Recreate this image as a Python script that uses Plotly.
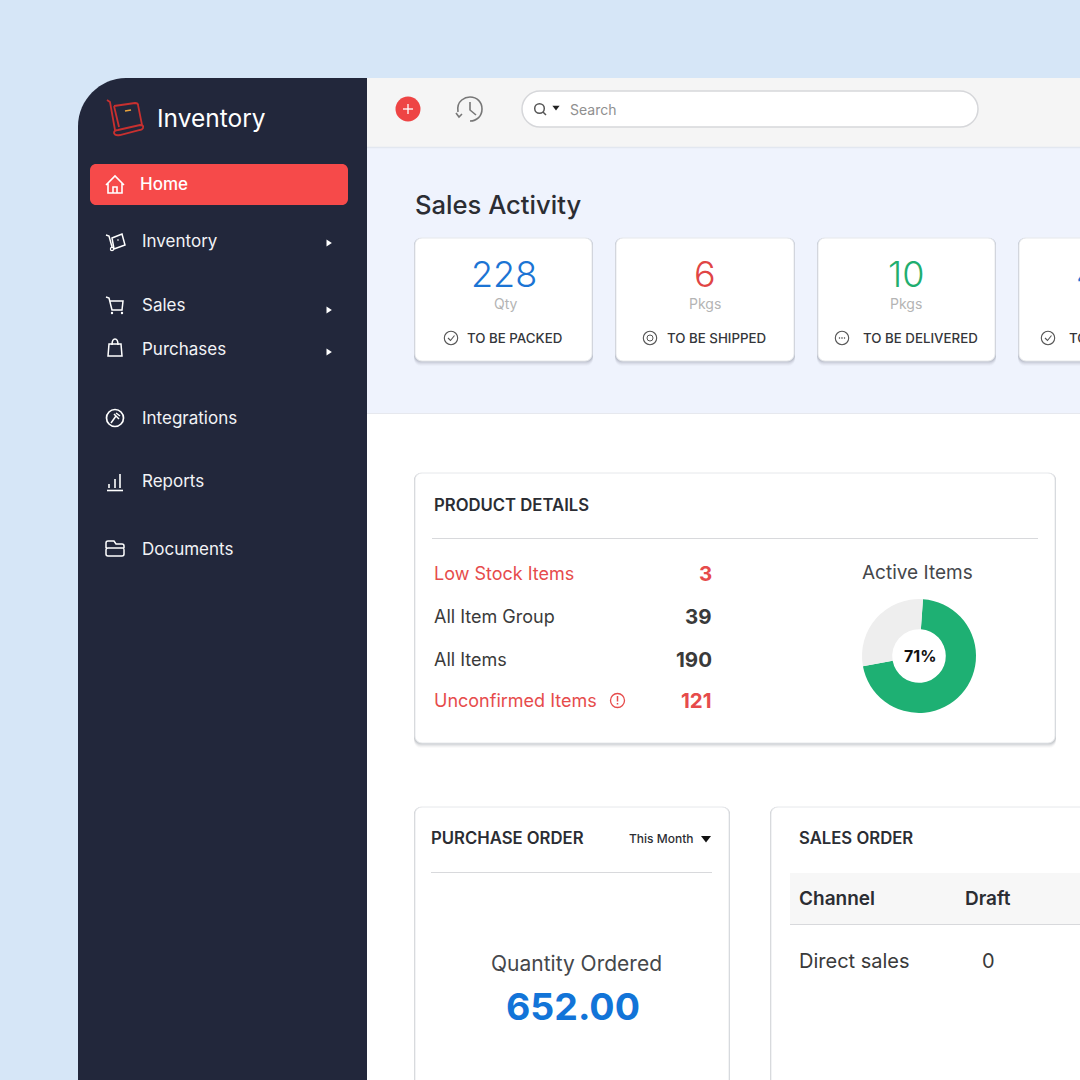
import plotly.graph_objects as go

FONT = "Inter"

# chart values
active_labels = ["Active", "Inactive"]
active_values = [71, 29]

stat_values = ["228", "6", "10", "4"]
stat_units = ["Qty", "Pkgs", "Pkgs", ""]
stat_labels = ["TO BE PACKED", "TO BE SHIPPED", "TO BE DELIVERED", "TO"]
stat_colors = ["#1b74d4", "#e04545", "#1fae6f", "#1b74d4"]

detail_names = ["Low Stock Items", "All Item Group", "All Items", "Unconfirmed Items"]
detail_values = ["3", "39", "190", "121"]
detail_colors = ["#e64b4b", "#3a3a3a", "#3a3a3a", "#e64b4b"]

menu_items = ["Inventory", "Sales", "Purchases", "Integrations", "Reports", "Documents"]

shapes = []
notes = []


def rrect(x0, y0, x1, y1, r, fill, line=None, w=1):
    k = r * 0.45
    d = (f"M {x0+r} {y0} L {x1-r} {y0} C {x1-k} {y0} {x1} {y0+k} {x1} {y0+r} "
         f"L {x1} {y1-r} C {x1} {y1-k} {x1-k} {y1} {x1-r} {y1} "
         f"L {x0+r} {y1} C {x0+k} {y1} {x0} {y1-k} {x0} {y1-r} "
         f"L {x0} {y0+r} C {x0} {y0+k} {x0+k} {y0} {x0+r} {y0} Z")
    shapes.append(dict(type="path", path=d, fillcolor=fill, layer="below",
                       line=dict(color=line or fill, width=w if line else 0)))


def card(x0, y0, x1, y1, r=7):
    # soft shadow under the card
    for i, a in zip([5, 4, 3, 2, 1], [0.03, 0.05, 0.07, 0.09, 0.12]):
        rrect(x0 - 1, y0, x1 + 1, y1 + i, r, f"rgba(90,100,110,{a})")
    rrect(x0, y0, x1, y1, r, "#ffffff", "#e6e8eb", 1)


def stroke(d, color="#ffffff", w=1.6, fill="rgba(0,0,0,0)"):
    shapes.append(dict(type="path", path=d, fillcolor=fill, layer="below",
                       line=dict(color=color, width=w)))


def circle(cx, cy, r, color="#ffffff", w=1.6, fill="rgba(0,0,0,0)"):
    shapes.append(dict(type="circle", x0=cx - r, x1=cx + r, y0=cy - r, y1=cy + r, layer="below",
                       fillcolor=fill, line=dict(color=color, width=w)))


def line(x0, y0, x1, y1, color, w=1):
    shapes.append(dict(type="line", x0=x0, x1=x1, y0=y0, y1=y1, layer="below",
                       line=dict(color=color, width=w)))


def tri(x, y, size, color, right=False):
    if right:
        d = f"M {x-size*0.7} {y-size} L {x+size*0.8} {y} L {x-size*0.7} {y+size} Z"
    else:
        d = f"M {x-size} {y-size*0.6} L {x+size} {y-size*0.6} L {x} {y+size*0.7} Z"
    shapes.append(dict(type="path", path=d, fillcolor=color, layer="below", line=dict(width=0)))


def text(x, y, s, size, color, anchor="left", weight=400):
    # annotations carry a small box padding, take it back so x is the ink edge
    shift = {"left": -2, "right": 2, "center": 0}[anchor]
    notes.append(dict(x=x, y=y, text=s, showarrow=False, xanchor=anchor, yanchor="middle", xshift=shift,
                      font=dict(family=FONT, size=size, color=color, weight=weight)))


# backgrounds
rrect(-10, -10, 1090, 1090, 0, "#d6e6f7")
shapes.append(dict(type="rect", x0=367, x1=1080, y0=78, y1=1080, fillcolor="#ffffff",
                   layer="below", line=dict(width=0)))
shapes.append(dict(type="rect", x0=367, x1=1080, y0=78, y1=147, fillcolor="#f5f5f5",
                   layer="below", line=dict(width=0)))
shapes.append(dict(type="rect", x0=367, x1=1080, y0=147, y1=413, fillcolor="#eff3fd",
                   layer="below", line=dict(width=0)))
line(367, 147.5, 1080, 147.5, "#e2e7f0", 1.5)
line(367, 413.5, 1080, 413.5, "#e6e8ee", 1)

# sidebar
stroke("M 78 1080 L 78 126 C 78 100 100 78 126 78 L 367 78 L 367 1080 Z", "#22273b", 0, "#22273b")

# logo
LOGO = "#c8302f"
stroke("M 107 100 L 110 102 L 115 130", LOGO, 1.8)
stroke("M 114 106 L 135 103 Q 138 103 138 105 L 142 125 M 114 106 L 119 127", LOGO, 1.8)
stroke("M 118 130 L 140 125 Q 144 125 143 128 Q 142 130 140 130 L 120 135 Q 115 136 114 133 Q 114 130 118 130 Z",
       LOGO, 1.8)
line(125, 111, 131, 110, "#e8a33d", 1.6)
text(157, 118, "Inventory", 24.5, "#ffffff")

# menu
rrect(90, 164, 348, 205, 6, "#f64a4a")
text(140, 184, "Home", 17, "#ffffff", weight=500)
stroke("M 106 185 L 115 176 L 124 185 M 108 183 L 108 193 L 122 193 L 122 183 M 113 193 L 113 187 L 117 187 L 117 193")

menu_y = [241, 305, 349, 418, 481, 549]
for name, y in zip(menu_items, menu_y):
    text(142, y, name, 17, "#f2f3f6")
for y in [243, 310, 352]:
    tri(329, y, 3.6, "#ffffff", right=True)

stroke("M 106 235 L 109 236 L 112 247 M 112 238 L 122 234 L 125 245 L 114 249 Z", w=1.5)
circle(112, 249, 1.6, w=1.2)
circle(118, 240, 0.4, w=1)
stroke("M 106 297 L 109 298 L 112 310 L 122 310 L 123 301 L 110 301", w=1.5)
circle(112, 313, 0.6, w=1.2)
circle(122, 313, 0.6, w=1.2)
stroke("M 109 344 L 121 344 L 122 356 L 108 356 Z M 112 345 Q 112 339 115 339 Q 118 339 118 345", w=1.5)
circle(115, 418, 8.5, w=1.7)
stroke("M 111 423 L 116 416 M 114 414 L 119 419 M 116 413 L 120 416", w=1.5)
line(109, 484, 109, 488, "#ffffff", 1.6)
line(115, 479, 115, 488, "#ffffff", 1.6)
line(120, 474, 120, 488, "#ffffff", 1.6)
line(107, 490.5, 123, 490.5, "#ffffff", 1.6)
stroke("M 106 548 L 106 543 Q 106 541 108 541 L 114 541 L 116 544 L 122 544 Q 124 544 124 546 L 124 548 "
       "M 108 548 L 123 548 Q 124 548 124 550 L 124 554 Q 124 556 122 556 L 108 556 Q 106 556 106 554 L 106 550 Q 106 548 108 548 Z",
       w=1.5)

# top bar
circle(408, 109, 12.5, "#ee4444", 0, "#ee4444")
line(403, 109, 413, 109, "#ffffff", 1.3)
line(408, 104, 408, 114, "#ffffff", 1.3)
stroke("M 458 112 C 456 100 466 97 470 97 C 477 97 482 102 482 109 C 482 116 477 121 470 121 "
       "M 470 102 L 470 110 L 476 115 M 456 113 L 459 117 L 462 114", "#777777", 1.6)
rrect(522, 91, 978, 127, 18, "#ffffff", "#d6d7da", 1.5)
circle(539.5, 108.5, 4.8, "#555555", 1.5)
line(543, 112, 546, 115, "#555555", 1.5)
tri(556, 108, 3.6, "#222222")
text(570, 109, "Search", 14, "#8f8f8f")

# sales activity
text(415, 204, "Sales Activity", 25.6, "#2b2d33", weight=500)
card_x = [(415, 592), (616, 794), (818, 995), (1019, 1100)]
value_x = [504, 705, 906]
unit_x = [506, 705, 906]
label_x = [467, 667, 863, 1069]
icon_x = [451, 650, 842, 1048]
for i in range(4):
    card(card_x[i][0], 238, card_x[i][1], 361)
    circle(icon_x[i], 338, 6.7, "#555555", 1.1)
    if i < 3:
        text(value_x[i], 274, stat_values[i], 36, stat_colors[i], "center", 300)
        text(unit_x[i], 303, stat_units[i], 14, "#b4b4b4", "center")
        text(label_x[i], 337.5, stat_labels[i], 13.3, "#34363a", weight=500)
    else:
        # 4th card runs off the right edge
        text(1076, 274, stat_values[i], 36, stat_colors[i], "left", 300)
        text(label_x[i], 337.5, stat_labels[i], 13.3, "#34363a", weight=500)
stroke("M 448 338 L 450.5 340.5 L 454.5 335.5", "#555555", 1.1)
stroke("M 1045 338 L 1047.5 340.5 L 1051.5 335.5", "#555555", 1.1)
circle(650, 338, 3, "#555555", 1)
for dx in [-2.5, 0, 2.5]:
    circle(842 + dx, 338, 0.4, "#555555", 1)

# product details
card(415, 473, 1055, 743)
text(434, 505, "PRODUCT DETAILS", 16.7, "#2b2d33", weight=600)
line(432, 538.5, 1038, 538.5, "#d8d9dc", 1)
detail_y = [573, 616, 659, 700]
for name, val, col, y in zip(detail_names, detail_values, detail_colors, detail_y):
    text(434, y, name, 18, col)
    text(712, y, val, 20.5, col, "right", 700)
circle(617.5, 700.5, 7, "#e64b4b", 1.3)
line(617.5, 696, 617.5, 701.5, "#e64b4b", 1.5)
line(617.5, 703, 617.5, 704.5, "#e64b4b", 1.5)
text(917, 572, "Active Items", 19, "#45474b", "center")
text(919.5, 656, f"{active_values[0]}%", 16, "#111111", "center", 700)

# purchase order
card(415, 807, 729, 1100)
text(431, 838, "PURCHASE ORDER", 16.7, "#2b2d33", weight=600)
text(629, 838.5, "This Month", 12, "#2b2d33", weight=500)
tri(706, 839, 5, "#111111")
line(431, 872.5, 712, 872.5, "#d8d9dc", 1)
text(576, 963, "Quantity Ordered", 21, "#45474b", "center")
text(573, 1006, "652.00", 37.5, "#1274d8", "center", 700)

# sales order
card(771, 807, 1100, 1100)
text(799, 838, "SALES ORDER", 16.7, "#2b2d33", weight=600)
shapes.append(dict(type="rect", x0=790, x1=1080, y0=873, y1=924, fillcolor="#f7f7f7",
                   layer="below", line=dict(width=0)))
line(790, 924.5, 1080, 924.5, "#d8d9dc", 1)
text(799, 898, "Channel", 19, "#2b2d33", weight=600)
text(965, 898, "Draft", 19, "#2b2d33", weight=600)
text(799, 961, "Direct sales", 20, "#3a3a3a")
text(988.5, 961, "0", 20, "#3a3a3a", "center")

fig = go.Figure()
fig.add_trace(go.Scatter(x=[], y=[], showlegend=False))
fig.add_trace(go.Pie(labels=active_labels, values=active_values, hole=0.47, sort=False,
                     direction="clockwise", rotation=4, textinfo="none", showlegend=False,
                     marker=dict(colors=["#1eb073", "#eeeeee"], line=dict(width=0)),
                     domain=dict(x=[862 / 1080, 976 / 1080], y=[1 - 713 / 1080, 1 - 599 / 1080])))

fig.update_layout(width=1080, height=1080, margin=dict(l=0, r=0, t=0, b=0),
                  paper_bgcolor="#d6e6f7", plot_bgcolor="rgba(0,0,0,0)",
                  xaxis=dict(range=[0, 1080], visible=False, fixedrange=True),
                  yaxis=dict(range=[1080, 0], visible=False, fixedrange=True),
                  shapes=shapes, annotations=notes)

fig.write_html("out.html", post_script="document.body.style.margin='0';",
               config=dict(displayModeBar=False))
